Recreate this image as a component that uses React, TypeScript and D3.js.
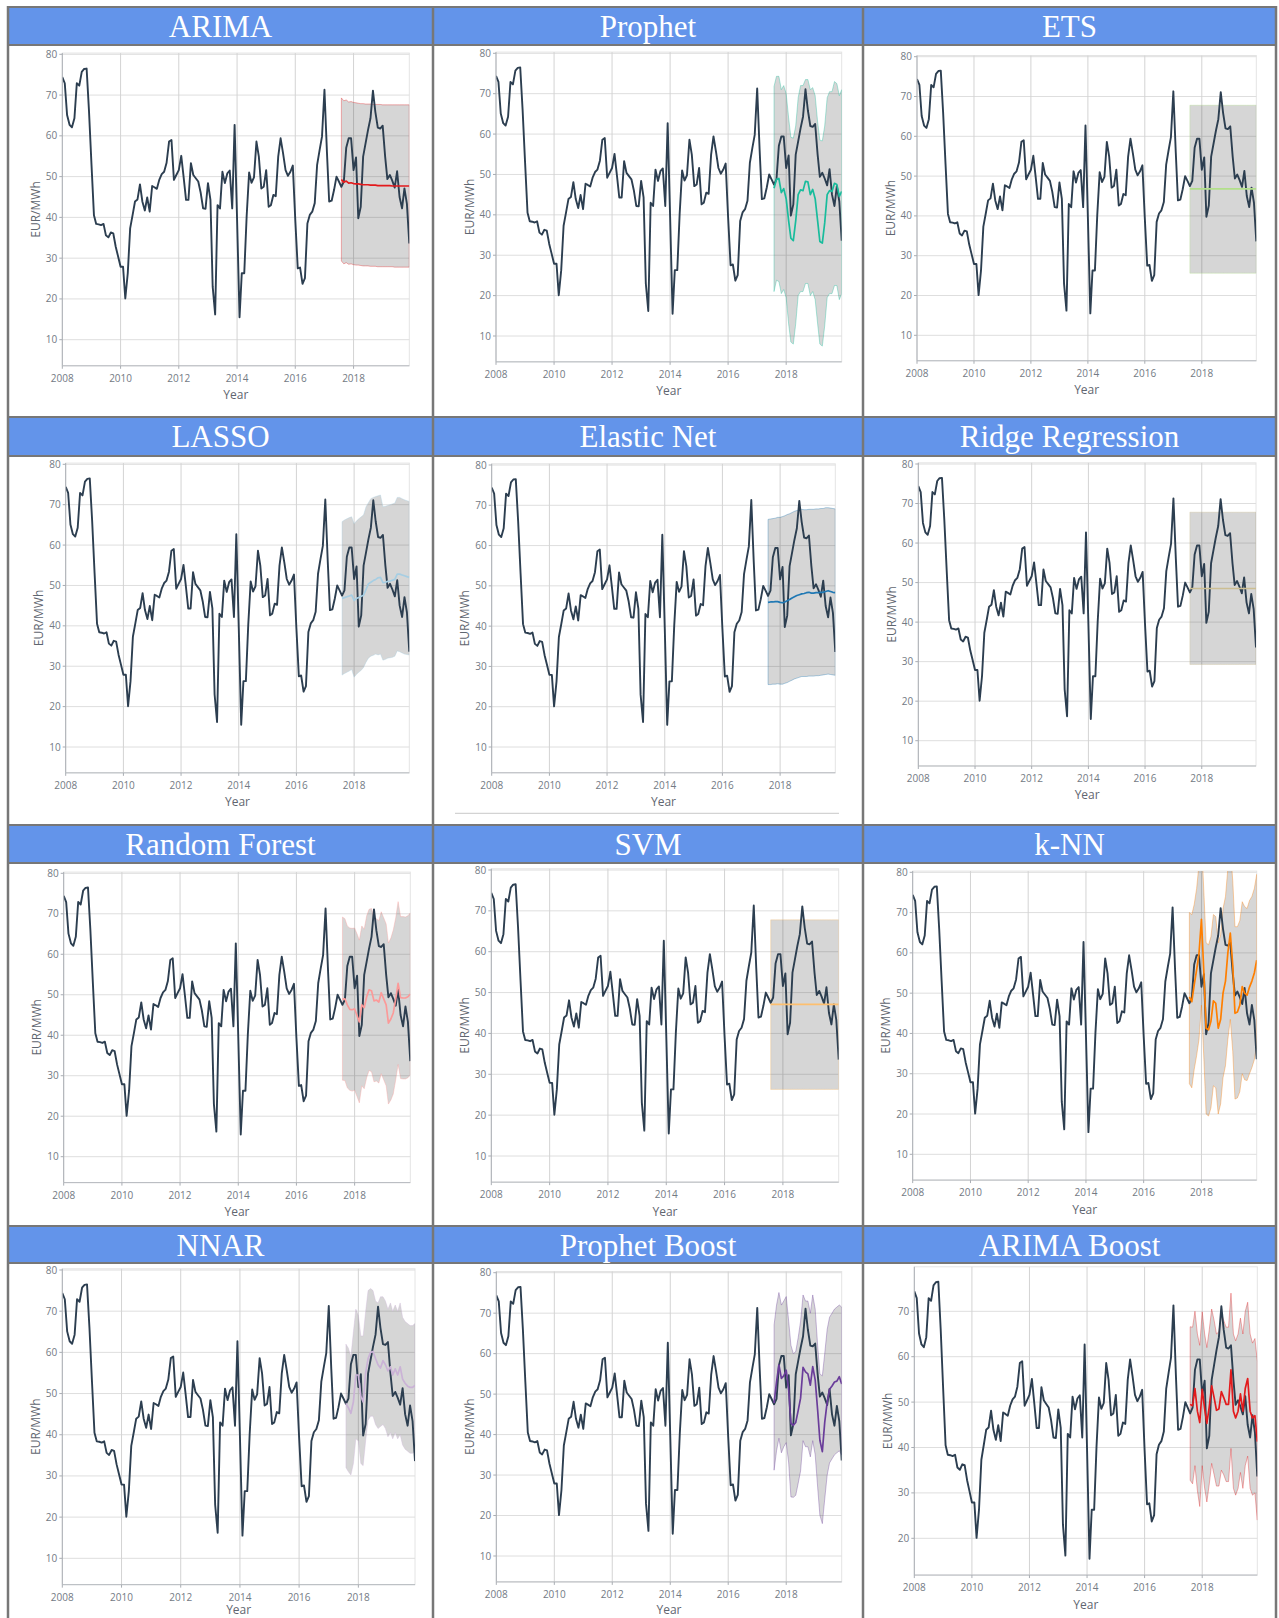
import React from "react";
import * as d3 from "d3";

// ---------- DATA ----------
const startYear = 2008;
const forecastStart = 115; // Aug 2017
const xTickYears = [2008, 2010, 2012, 2014, 2016, 2018];
const yTickValues = [10, 20, 30, 40, 50, 60, 70, 80];

const actual = [
  74.4, 72.9, 65.1, 62.7, 62.1, 64.3, 72.9, 72.3, 75.7, 76.4, 76.5, 66.0,
  53.0, 40.5, 38.4, 38.3, 38.1, 38.4, 35.6, 35.1, 36.3, 36.1, 32.8, 30.4,
  27.9, 27.9, 20.1, 26.3, 37.3, 40.6, 43.9, 44.4, 48.1, 43.9, 41.7, 44.9,
  41.4, 47.7, 47.4, 47.0, 49.2, 50.6, 51.2, 53.4, 58.6, 59.0, 49.2, 50.4,
  51.6, 55.1, 50.0, 44.3, 44.3, 53.3, 50.4, 49.6, 48.8, 46.1, 42.2, 42.1,
  48.4, 44.3, 23.0, 16.2, 43.0, 42.2, 51.2, 48.4, 50.8, 51.5, 42.2, 62.7,
  39.5, 15.5, 26.3, 26.3, 40.2, 51.0, 48.5, 49.8, 58.6, 54.9, 47.1, 47.5,
  51.6, 42.6, 43.0, 45.5, 45.2, 54.9, 59.4, 55.7, 51.6, 50.2, 51.2, 52.7,
  39.4, 27.5, 27.7, 23.7, 25.1, 38.5, 40.6, 41.4, 43.5, 52.9, 56.5, 59.8,
  71.3, 56.0, 43.9, 44.1, 46.7, 50.0, 48.8, 47.5, 48.8, 57.1, 59.4, 59.4,
  51.6, 54.7, 39.8, 42.6, 54.9, 58.2, 61.4, 64.3, 71.1, 65.9, 62.0, 61.8,
  62.5, 54.9, 49.4, 50.4, 49.0, 47.3, 51.3, 45.0, 42.2, 47.1, 43.3, 33.6,
];

const titles = [
  "ARIMA", "Prophet", "ETS",
  "LASSO", "Elastic Net", "Ridge Regression",
  "Random Forest", "SVM", "k-NN",
  "NNAR", "Prophet Boost", "ARIMA Boost",
];
const colors = [
  "#e31a1c", "#18BC9C", "#b2df8a",
  "#a6cee3", "#1f78b4", "#CCBE93",
  "#fb9a99", "#fdbf6f", "#ff7f00",
  "#cab2d6", "#6a3d9a", "#e31a1c",
];

const arimaFc = [49.3, 48.6, 48.9, 48.4, 48.5, 48.3, 48.2, 48.2, 48.1, 48.0, 48.0, 48.0, 47.9, 47.9, 47.9, 47.8, 47.8, 47.8, 47.8, 47.8, 47.8, 47.7, 47.7, 47.7, 47.7, 47.7, 47.7, 47.7, 47.7];
const arimaHi = [69.3, 68.6, 68.8, 68.3, 68.4, 68.2, 68.1, 68.0, 67.9, 67.9, 67.8, 67.8, 67.8, 67.7, 67.7, 67.7, 67.7, 67.6, 67.6, 67.6, 67.6, 67.6, 67.6, 67.6, 67.6, 67.6, 67.6, 67.6, 67.6];
const arimaLo = [29.3, 28.6, 28.9, 28.5, 28.6, 28.4, 28.3, 28.3, 28.2, 28.1, 28.1, 28.1, 28.0, 28.0, 28.0, 27.9, 27.9, 27.9, 27.9, 27.9, 27.9, 27.9, 27.8, 27.8, 27.8, 27.8, 27.8, 27.8, 27.8];

const prophetFc = [46.6, 48.8, 49.0, 45.5, 46.5, 44.0, 38.5, 34.2, 33.6, 38.5, 45.0, 46.2, 46.0, 48.3, 48.2, 45.0, 46.3, 44.0, 38.5, 33.4, 33.0, 38.0, 45.0, 46.0, 45.8, 47.8, 47.5, 44.6, 45.8];
const prophetHi = [71.8, 74.3, 74.3, 71.0, 72.0, 70.0, 64.0, 59.2, 59.0, 62.0, 69.0, 72.0, 72.0, 73.5, 73.5, 71.0, 71.5, 69.5, 63.0, 58.5, 58.3, 62.0, 69.0, 70.5, 70.5, 73.0, 72.5, 69.5, 71.0];
const prophetLo = [21.0, 23.8, 23.5, 20.5, 21.5, 19.5, 13.0, 8.5, 8.0, 13.0, 20.0, 21.0, 21.0, 23.0, 23.0, 20.0, 21.0, 19.0, 13.0, 8.0, 7.5, 12.5, 19.5, 20.5, 20.5, 22.5, 22.5, 19.0, 20.5];

const etsFc = [46.8, 46.8, 46.8, 46.8, 46.8, 46.8, 46.8, 46.8, 46.8, 46.8, 46.8, 46.8, 46.8, 46.8, 46.8, 46.8, 46.8, 46.8, 46.8, 46.8, 46.8, 46.8, 46.8, 46.8, 46.8, 46.8, 46.8, 46.8, 46.8];
const etsHi = [67.8, 67.8, 67.8, 67.8, 67.8, 67.8, 67.8, 67.8, 67.8, 67.8, 67.8, 67.8, 67.8, 67.8, 67.8, 67.8, 67.8, 67.8, 67.8, 67.8, 67.8, 67.8, 67.8, 67.8, 67.8, 67.8, 67.8, 67.8, 67.8];
const etsLo = [25.6, 25.6, 25.6, 25.6, 25.6, 25.6, 25.6, 25.6, 25.6, 25.6, 25.6, 25.6, 25.6, 25.6, 25.6, 25.6, 25.6, 25.6, 25.6, 25.6, 25.6, 25.6, 25.6, 25.6, 25.6, 25.6, 25.6, 25.6, 25.6];

const lassoFc = [46.8, 47.0, 47.2, 47.4, 47.6, 46.3, 46.8, 47.0, 47.3, 47.6, 49.0, 50.4, 50.8, 51.2, 51.5, 51.9, 52.0, 50.7, 50.8, 51.0, 51.1, 51.3, 51.5, 52.8, 52.8, 52.6, 52.4, 52.2, 52.0];
const lassoHi = [65.8, 66.2, 66.5, 66.8, 67.0, 65.3, 66.0, 66.5, 67.0, 67.5, 69.5, 70.5, 71.5, 71.8, 72.0, 72.2, 72.4, 69.5, 69.6, 69.8, 70.0, 70.2, 70.4, 71.8, 71.8, 71.5, 71.2, 71.0, 70.8];
const lassoLo = [27.8, 28.2, 28.5, 28.8, 29.2, 27.3, 28.0, 28.5, 29.0, 29.7, 31.0, 32.0, 32.5, 32.7, 33.0, 32.8, 33.0, 31.5, 31.7, 32.0, 32.1, 32.2, 32.5, 33.8, 33.6, 33.3, 33.0, 32.9, 32.8];

const enetFc = [45.9, 46.0, 46.0, 46.1, 46.1, 45.9, 45.8, 46.0, 46.3, 46.6, 47.0, 47.3, 47.6, 47.8, 48.0, 48.1, 48.3, 48.4, 48.2, 48.2, 48.3, 48.3, 48.4, 48.4, 48.6, 48.8, 48.6, 48.4, 48.3];
const enetHi = [66.5, 66.6, 66.7, 66.8, 67.0, 67.0, 67.2, 67.4, 67.7, 67.9, 68.2, 68.5, 68.7, 68.8, 69.0, 68.9, 68.9, 69.0, 69.0, 69.0, 69.1, 69.1, 69.2, 69.2, 69.4, 69.4, 69.3, 69.2, 69.1];
const enetLo = [25.5, 25.5, 25.6, 25.6, 25.7, 25.6, 25.6, 25.8, 26.0, 26.3, 26.6, 26.9, 27.1, 27.3, 27.5, 27.5, 27.5, 27.6, 27.6, 27.6, 27.7, 27.7, 27.8, 27.9, 28.0, 28.1, 28.0, 27.9, 27.8];

const ridgeFc = [48.5, 48.5, 48.5, 48.5, 48.5, 48.5, 48.5, 48.5, 48.5, 48.5, 48.5, 48.5, 48.5, 48.5, 48.5, 48.5, 48.5, 48.5, 48.5, 48.5, 48.5, 48.5, 48.5, 48.5, 48.5, 48.5, 48.5, 48.5, 48.5];
const ridgeHi = [67.8, 67.8, 67.8, 67.8, 67.8, 67.8, 67.8, 67.8, 67.8, 67.8, 67.8, 67.8, 67.8, 67.8, 67.8, 67.8, 67.8, 67.8, 67.8, 67.8, 67.8, 67.8, 67.8, 67.8, 67.8, 67.8, 67.8, 67.8, 67.8];
const ridgeLo = [29.3, 29.3, 29.3, 29.3, 29.3, 29.3, 29.3, 29.3, 29.3, 29.3, 29.3, 29.3, 29.3, 29.3, 29.3, 29.3, 29.3, 29.3, 29.3, 29.3, 29.3, 29.3, 29.3, 29.3, 29.3, 29.3, 29.3, 29.3, 29.3];

const rfFc = [48.9, 49.0, 47.5, 46.4, 46.3, 46.5, 44.8, 43.3, 47.5, 46.8, 49.5, 51.2, 51.0, 48.5, 48.7, 48.2, 50.5, 49.0, 47.5, 43.0, 44.0, 45.5, 49.0, 52.8, 49.3, 49.2, 49.2, 49.5, 50.2];
const rfHi = [69.2, 68.8, 67.0, 66.5, 66.4, 66.5, 65.0, 63.5, 67.0, 66.2, 69.5, 71.1, 71.3, 68.5, 68.8, 68.3, 70.5, 69.0, 67.5, 62.8, 64.0, 66.0, 69.0, 73.0, 69.3, 69.3, 69.2, 69.5, 70.2];
const rfLo = [28.9, 28.8, 27.0, 26.4, 26.2, 26.4, 24.8, 23.3, 27.5, 26.8, 29.5, 31.3, 31.0, 28.5, 28.7, 28.2, 30.5, 29.0, 27.5, 23.0, 24.0, 25.5, 29.0, 32.8, 29.3, 29.2, 29.2, 29.5, 30.2];

const svmFc = [47.1, 47.1, 47.1, 47.1, 47.1, 47.1, 47.1, 47.1, 47.1, 47.1, 47.1, 47.1, 47.1, 47.1, 47.1, 47.1, 47.1, 47.1, 47.1, 47.1, 47.1, 47.1, 47.1, 47.1, 47.1, 47.1, 47.1, 47.1, 47.1];
const svmHi = [67.8, 67.8, 67.8, 67.8, 67.8, 67.8, 67.8, 67.8, 67.8, 67.8, 67.8, 67.8, 67.8, 67.8, 67.8, 67.8, 67.8, 67.8, 67.8, 67.8, 67.8, 67.8, 67.8, 67.8, 67.8, 67.8, 67.8, 67.8, 67.8];
const svmLo = [26.3, 26.3, 26.3, 26.3, 26.3, 26.3, 26.3, 26.3, 26.3, 26.3, 26.3, 26.3, 26.3, 26.3, 26.3, 26.3, 26.3, 26.3, 26.3, 26.3, 26.3, 26.3, 26.3, 26.3, 26.3, 26.3, 26.3, 26.3, 26.3];

const knnFc = [49.1, 47.9, 52.0, 55.8, 59.9, 68.3, 54.9, 41.3, 40.9, 43.0, 48.1, 47.5, 41.3, 43.5, 50.0, 53.0, 60.0, 64.9, 57.0, 45.0, 45.3, 47.0, 51.6, 50.0, 49.5, 51.5, 53.0, 55.0, 58.2];
const knnHi = [70.0, 69.5, 72.0, 76.0, 82.0, 88.0, 75.0, 62.5, 62.0, 64.0, 69.5, 69.0, 62.5, 64.5, 71.0, 74.0, 81.0, 86.0, 78.0, 66.5, 66.5, 68.0, 72.7, 71.5, 71.0, 73.0, 74.0, 76.0, 79.5];
const knnLo = [27.5, 26.5, 31.0, 34.5, 38.5, 47.0, 33.5, 20.0, 19.5, 21.5, 27.0, 26.5, 20.0, 22.5, 29.0, 32.0, 38.5, 43.5, 35.5, 23.7, 24.0, 25.5, 30.0, 28.5, 28.3, 30.0, 31.5, 33.5, 37.0];

const nnarFc = [47.6, 46.5, 45.2, 48.0, 54.5, 54.5, 49.3, 48.0, 55.0, 58.5, 60.0, 60.2, 58.5, 57.0, 56.2, 58.0, 57.0, 55.5, 56.5, 54.5, 56.0, 54.5, 56.5, 53.5, 52.5, 51.8, 51.5, 51.5, 52.0];
const nnarHi = [62.0, 61.0, 59.0, 65.0, 70.5, 69.0, 64.0, 64.0, 70.0, 75.0, 75.5, 75.0, 72.5, 72.0, 73.5, 73.5, 72.5, 70.5, 72.0, 70.0, 71.5, 70.0, 72.0, 68.5, 67.5, 67.0, 66.5, 66.5, 67.0];
const nnarLo = [32.0, 31.0, 30.2, 33.0, 39.0, 38.5, 33.0, 32.5, 38.5, 43.5, 44.5, 44.5, 42.5, 41.5, 42.0, 42.5, 41.5, 39.5, 40.5, 39.0, 40.5, 39.0, 40.0, 37.5, 36.5, 36.0, 35.5, 35.5, 36.0];

const pboostFc = [47.8, 53.0, 57.2, 53.9, 54.5, 55.9, 51.0, 42.8, 42.3, 43.0, 46.0, 49.0, 56.6, 55.5, 55.0, 52.2, 56.8, 53.5, 46.0, 38.6, 35.8, 43.0, 48.0, 51.2, 52.0, 53.0, 53.2, 54.3, 52.5];
const pboostHi = [67.1, 72.0, 75.1, 72.0, 73.0, 74.1, 68.0, 62.1, 60.0, 60.5, 64.0, 68.0, 74.5, 73.0, 73.0, 70.0, 74.5, 71.0, 62.0, 55.0, 54.5, 60.0, 66.0, 69.0, 70.0, 71.0, 71.5, 72.0, 71.5];
const pboostLo = [31.2, 36.0, 39.1, 35.5, 37.0, 38.0, 33.0, 24.6, 24.5, 25.0, 28.0, 31.0, 38.5, 37.0, 37.0, 34.5, 38.5, 35.0, 27.0, 20.1, 18.0, 24.0, 30.0, 33.0, 34.0, 35.0, 35.5, 36.0, 35.0];

const aboostFc = [49.5, 49.2, 53.0, 48.0, 45.5, 52.8, 48.5, 45.3, 49.0, 53.6, 51.0, 48.2, 48.5, 52.3, 51.0, 49.5, 49.5, 57.1, 48.0, 46.5, 48.0, 51.8, 48.0, 53.0, 55.2, 48.0, 46.5, 47.0, 41.3];
const aboostHi = [66.6, 66.5, 70.0, 65.0, 62.5, 69.9, 65.0, 62.0, 66.0, 70.5, 68.0, 65.0, 65.5, 69.5, 68.0, 66.5, 66.5, 74.0, 65.0, 63.5, 65.0, 68.5, 65.0, 70.0, 72.0, 65.0, 63.0, 64.0, 59.0];
const aboostLo = [32.8, 32.0, 36.0, 30.5, 27.0, 36.0, 31.0, 28.0, 32.0, 36.5, 34.0, 31.5, 31.5, 35.0, 34.0, 32.5, 32.5, 39.8, 31.0, 29.5, 31.0, 34.5, 31.0, 36.0, 38.1, 31.0, 29.5, 30.0, 24.0];

const forecasts = [
  [arimaFc, arimaHi, arimaLo],
  [prophetFc, prophetHi, prophetLo],
  [etsFc, etsHi, etsLo],
  [lassoFc, lassoHi, lassoLo],
  [enetFc, enetHi, enetLo],
  [ridgeFc, ridgeHi, ridgeLo],
  [rfFc, rfHi, rfLo],
  [svmFc, svmHi, svmLo],
  [knnFc, knnHi, knnLo],
  [nnarFc, nnarHi, nnarLo],
  [pboostFc, pboostHi, pboostLo],
  [aboostFc, aboostHi, aboostLo],
];

const yDomains = [
  [3.6, 80.3], [3.6, 80.3], [3.6, 80.3],
  [3.6, 80.3], [3.6, 80.3], [3.6, 80.3],
  [3.6, 80.3], [3.6, 80.3], [3.6, 80.3],
  [3.6, 80.3], [3.6, 80.3], [11.9, 79.8],
];

// ---------- LAYOUT ----------
const W = 1279;
const H = 1618;
const colEdges = [8, 433, 863, 1276];
const headerTops = [7, 417, 825, 1226];
const headerBottoms = [45, 456, 863, 1263];
const borderColor = "#777777";
const headerFill = "#6394ea";

const geom = [
  { l: 62.3, r: 409.3, ya: 54.3, va: 80, yb: 339.7, vb: 10 },
  { l: 496, r: 841.7, ya: 53.3, va: 80, yb: 336, vb: 10 },
  { l: 917, r: 1256.3, ya: 56.7, va: 80, yb: 335.3, vb: 10 },
  { l: 65.7, r: 409.3, ya: 464.3, va: 80, yb: 747, vb: 10 },
  { l: 491.7, r: 835.3, ya: 465, va: 80, yb: 747, vb: 10 },
  { l: 918.3, r: 1256, ya: 464, va: 80, yb: 740.7, vb: 10 },
  { l: 63.7, r: 410.3, ya: 873.3, va: 80, yb: 1156.7, vb: 10 },
  { l: 491.3, r: 838.7, ya: 870, va: 80, yb: 1156, vb: 10 },
  { l: 912.7, r: 1256.7, ya: 872.3, va: 80, yb: 1154.3, vb: 10 },
  { l: 62.3, r: 415, ya: 1270, va: 80, yb: 1558.3, vb: 10 },
  { l: 496.3, r: 841.7, ya: 1272.7, va: 80, yb: 1556, vb: 10 },
  { l: 914.3, r: 1257.3, ya: 1311.3, va: 70, yb: 1538.3, vb: 20 },
];

const tickFont = "'Open Sans', 'Noto Sans', sans-serif";
const tickColor = "#737a84";
const titleColor = "#5f6670";

const dates: Date[] = actual.map((_, i) => new Date(startYear, i, 1));

type Pt = { d: Date; v: number };
type Band = { d: Date; hi: number; lo: number };

function Panel({ idx }: { idx: number }) {
  const g = geom[idx];
  const [dLo, dHi] = yDomains[idx];
  const color = colors[idx];
  const [fc, hi, lo] = forecasts[idx];

  const x = d3.scaleTime().domain([dates[0], dates[dates.length - 1]]).range([g.l, g.r]);
  const y = d3.scaleLinear().domain([g.vb, g.va]).range([g.yb, g.ya]);
  const top = y(dHi);
  const bottom = y(dLo);

  const actualPts: Pt[] = actual.map((v, i) => ({ d: dates[i], v }));
  const fcPts: Pt[] = fc.map((v, i) => ({ d: dates[forecastStart + i], v }));
  const bandPts: Band[] = fc.map((_, i) => ({ d: dates[forecastStart + i], hi: hi[i], lo: lo[i] }));

  const line = d3.line<Pt>().x((p) => x(p.d)).y((p) => y(p.v));
  const area = d3.area<Band>().x((p) => x(p.d)).y0((p) => y(p.lo)).y1((p) => y(p.hi));
  const bandOutline =
    "M" +
    bandPts.map((p) => `${x(p.d)},${y(p.hi)}`).join("L") +
    "L" +
    bandPts.slice().reverse().map((p) => `${x(p.d)},${y(p.lo)}`).join("L") +
    "Z";

  const yTicks = yTickValues.filter((v) => v >= dLo && v <= dHi);
  const xTicks = xTickYears.map((yr) => new Date(yr, 0, 1));
  const clipId = `clip-${idx}`;
  const yearY = Math.min(bottom + 33.5, H - 4);

  return (
    <g>
      <defs>
        <clipPath id={clipId}>
          <rect x={g.l} y={top} width={g.r - g.l} height={bottom - top} />
        </clipPath>
      </defs>
      <rect x={g.l} y={top} width={g.r - g.l} height={bottom - top} fill="#ffffff" stroke="#e4e4e4" strokeWidth={1} />
      {yTicks.map((v) => (
        <line key={"hg" + v} x1={g.l} x2={g.r} y1={y(v)} y2={y(v)} stroke="#dedede" strokeWidth={1} />
      ))}
      {xTicks.slice(1).map((d, i) => (
        <line key={"vg" + i} x1={x(d)} x2={x(d)} y1={top} y2={bottom} stroke="#d3d3d3" strokeWidth={1} />
      ))}
      <g clipPath={`url(#${clipId})`}>
        <path d={area(bandPts) || ""} fill="rgba(51,51,51,0.2)" stroke="none" />
        <path d={bandOutline} fill="none" stroke={color} strokeOpacity={0.35} strokeWidth={1} />
        <path d={line(actualPts) || ""} fill="none" stroke="#2c3e50" strokeWidth={1.9} strokeLinejoin="round" />
        <path d={line(fcPts) || ""} fill="none" stroke={color} strokeWidth={1.7} strokeLinejoin="round" />
      </g>
      <line x1={g.l} x2={g.l} y1={top} y2={bottom} stroke="#a9adb3" strokeWidth={1} />
      <line x1={g.l} x2={g.r} y1={bottom} y2={bottom} stroke="#b5b9be" strokeWidth={1} />
      {yTicks.map((v) => (
        <g key={"yt" + v}>
          <line x1={g.l - 3} x2={g.l} y1={y(v)} y2={y(v)} stroke="#a9adb3" strokeWidth={1} />
          <text x={g.l - 5} y={y(v)} dy="0.35em" textAnchor="end" fontSize={10} fontFamily={tickFont} fill={tickColor}>
            {v}
          </text>
        </g>
      ))}
      {xTicks.map((d, i) => (
        <g key={"xt" + i}>
          <line x1={x(d)} x2={x(d)} y1={bottom} y2={bottom + 3} stroke="#a9adb3" strokeWidth={1} />
          <text x={x(d)} y={bottom + 16} textAnchor="middle" fontSize={10} fontFamily={tickFont} fill={tickColor}>
            {xTickYears[i]}
          </text>
        </g>
      ))}
      <text x={(g.l + g.r) / 2} y={yearY} textAnchor="middle" fontSize={12} fontFamily={tickFont} fill={titleColor}>
        Year
      </text>
      <text
        transform={`translate(${g.l - 26.5},${(top + bottom) / 2}) rotate(-90)`}
        textAnchor="middle"
        dy="0.35em"
        fontSize={12}
        fontFamily={tickFont}
        fill={titleColor}
      >
        EUR/MWh
      </text>
    </g>
  );
}

export default function App() {
  return (
    <svg
      width={W}
      height={H}
      viewBox={`0 0 ${W} ${H}`}
      style={{ position: "absolute", left: 0, top: 0, display: "block", background: "#ffffff" }}
    >
      <rect x={0} y={0} width={W} height={H} fill="#ffffff" />
      {titles.map((_, i) => (
        <Panel key={i} idx={i} />
      ))}
      <line x1={455} x2={839} y1={813.3} y2={813.3} stroke="#c9c9c9" strokeWidth={1} />
      {headerTops.map((t, r) => (
        <g key={"hdr" + r}>
          <rect x={colEdges[0]} y={t} width={colEdges[3] - colEdges[0]} height={headerBottoms[r] - t} fill={headerFill} />
          <line x1={colEdges[0]} x2={colEdges[3]} y1={t} y2={t} stroke={borderColor} strokeWidth={2} />
          <line x1={colEdges[0]} x2={colEdges[3]} y1={headerBottoms[r]} y2={headerBottoms[r]} stroke={borderColor} strokeWidth={2} />
          {[0, 1, 2].map((c) => (
            <text
              key={c}
              x={(colEdges[c] + colEdges[c + 1]) / 2}
              y={t + 29.5}
              textAnchor="middle"
              fontSize={31}
              fontFamily="'Liberation Serif', 'Times New Roman', serif"
              fill="#ffffff"
            >
              {titles[r * 3 + c]}
            </text>
          ))}
        </g>
      ))}
      {colEdges.map((cx, i) => (
        <line key={"col" + i} x1={cx} x2={cx} y1={headerTops[0] - 1} y2={H} stroke={borderColor} strokeWidth={2.5} />
      ))}
    </svg>
  );
}
